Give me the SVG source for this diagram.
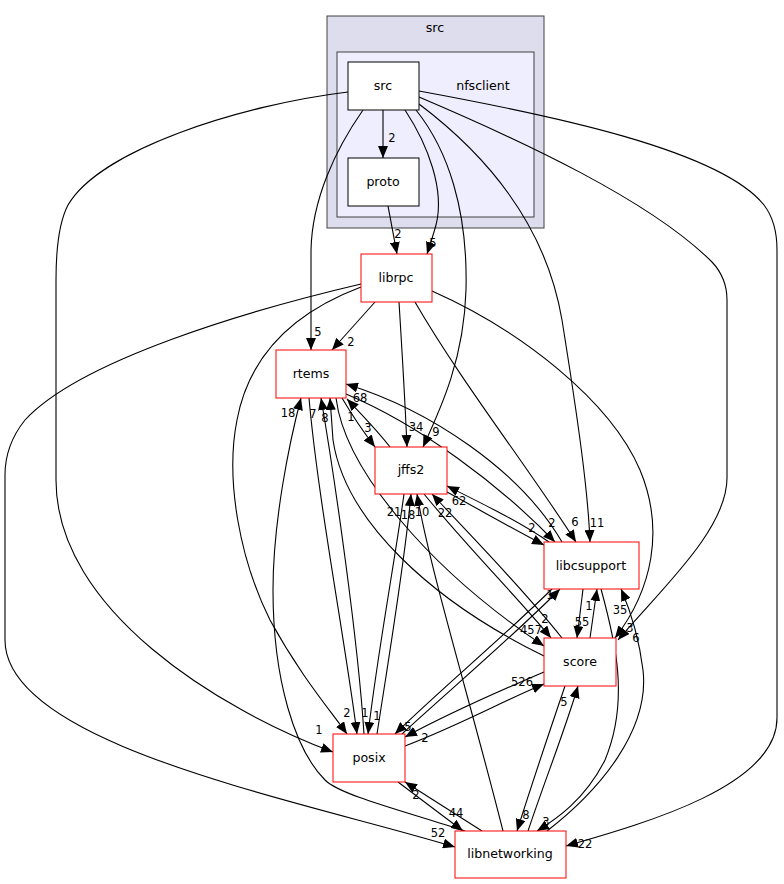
<svg xmlns="http://www.w3.org/2000/svg" width="784" height="884" viewBox="0 0 784 884">
<style>
.e{fill:none;stroke:#000;stroke-width:1.1;marker-end:url(#a)}
.n{fill:#fff;stroke:#ff0000;stroke-width:1}
.nb{fill:#fff;stroke:#000;stroke-width:1}
.t{font-family:"DejaVu Sans",sans-serif;font-size:12.6px;fill:#000;text-anchor:middle}
.l{font-family:"DejaVu Sans",sans-serif;font-size:11.5px;fill:#000;text-anchor:middle}
</style>
<defs>
<marker id="a" viewBox="0 0 12 10" refX="12" refY="5" markerWidth="12" markerHeight="10" markerUnits="userSpaceOnUse" orient="auto">
<path d="M0,0 L12,5 L0,10 z" fill="#000"/>
</marker>
</defs>
<rect width="784" height="884" fill="#fff"/>
<g id="cluster_src">
<rect x="327" y="16" width="217" height="212" fill="#ddddee" stroke="#404040"/>
<text class="t" x="435" y="32">src</text>
</g>
<g id="cluster_nfsclient">
<rect x="337" y="52" width="197" height="165" fill="#eeeeff" stroke="#404040"/>
<text class="t" x="483" y="90">nfsclient</text>
</g>
<g id="edges">
<path class="e" d="M383,110 L383,158"/>
<path class="e" d="M405,110 C428,145 445,190 436,225 C433,236 430,245 427,254"/>
<path class="e" d="M363,110 C335,150 312,200 311,250 L311,350"/>
<path class="e" d="M416,110 C448,150 468,210 466,290 C464,360 440,410 423,447"/>
<path class="e" d="M419,104 C480,150 545,220 562,320 C578,420 588,490 590,542"/>
<path class="e" d="M419,97 C520,140 650,200 712,262 Q727,278 727,300 L727,478 C727,530 660,590 618,640"/>
<path class="e" d="M419,91 C550,115 720,150 764,205 Q777,222 777,250 L777,718 C777,785 650,822 566,846"/>
<path class="e" d="M348,92 C240,105 100,150 68,205 Q56,228 56,280 L56,480 C56,610 220,710 333,752"/>
<path class="e" d="M388,206 L397,254"/>
<path class="e" d="M375,302 L332,350"/>
<path class="e" d="M399,302 C402,350 405,400 407,447"/>
<path class="e" d="M415,302 C460,380 530,470 576,542"/>
<path class="e" d="M432,291 C520,330 610,400 640,470 C665,530 652,590 615,638"/>
<path class="e" d="M361,287 C300,310 250,350 237,420 C225,480 240,560 270,620 C300,675 330,710 347,734"/>
<path class="e" d="M361,284 C250,310 80,360 25,420 Q5,445 5,475 L5,640 C5,745 300,800 455,847"/>
<path class="e" d="M342,398 C352,415 362,430 375,447"/>
<path class="e" d="M390,447 C377,430 362,415 347,399"/>
<path class="e" d="M562,542 C520,470 430,410 346,384"/>
<path class="e" d="M346,394 C420,425 500,485 555,542"/>
<path class="e" d="M447,492 C480,510 515,530 544,545"/>
<path class="e" d="M549,542 C520,522 485,505 447,486"/>
<path class="e" d="M364,734 C358,640 335,480 321,398"/>
<path class="e" d="M309,398 C318,500 345,640 357,734"/>
<path class="e" d="M404,494 C395,560 378,650 368,734"/>
<path class="e" d="M377,734 C390,650 405,560 411,494"/>
<path class="e" d="M503,831 C470,700 430,570 417,494"/>
<path class="e" d="M336,398 C345,470 430,570 544,646"/>
<path class="e" d="M544,656 C430,600 345,520 333,440 L330,398"/>
<path class="e" d="M424,494 C470,550 520,600 551,638"/>
<path class="e" d="M562,638 C520,585 470,535 432,494"/>
<path class="e" d="M583,589 L577,638"/>
<path class="e" d="M590,638 L597,589"/>
<path class="e" d="M601,589 C615,640 630,700 605,760 C585,800 555,820 537,831"/>
<path class="e" d="M547,831 C600,790 650,730 643,670 C638,630 628,605 621,589"/>
<path class="e" d="M565,686 C550,730 530,790 517,831"/>
<path class="e" d="M528,831 C545,780 565,730 578,686"/>
<path class="e" d="M405,746 C460,725 505,700 544,684"/>
<path class="e" d="M544,672 C490,695 440,718 405,737"/>
<path class="e" d="M552,589 C500,640 440,690 395,734"/>
<path class="e" d="M402,734 C450,690 520,630 560,589"/>
<path class="e" d="M398,782 L463,831"/>
<path class="e" d="M482,831 L405,782"/>
<path class="e" d="M465,831 C400,810 340,795 325,780 C295,750 273,680 273,590 C273,520 290,440 301,398"/>
</g>
<g id="edge_labels">
<text class="l" x="392" y="142">2</text>
<text class="l" x="398" y="238">2</text>
<text class="l" x="433" y="247">5</text>
<text class="l" x="318" y="336">5</text>
<text class="l" x="351" y="346">2</text>
<text class="l" x="360" y="402">68</text>
<text class="l" x="288" y="417">18</text>
<text class="l" x="313" y="418">7</text>
<text class="l" x="325" y="422">8</text>
<text class="l" x="351" y="421">1</text>
<text class="l" x="368" y="432">3</text>
<text class="l" x="416" y="431">34</text>
<text class="l" x="436" y="436">9</text>
<text class="l" x="394" y="516">21</text>
<text class="l" x="408" y="519">18</text>
<text class="l" x="422" y="516">10</text>
<text class="l" x="445" y="517">22</text>
<text class="l" x="459" y="505">62</text>
<text class="l" x="532" y="532">2</text>
<text class="l" x="552" y="527">2</text>
<text class="l" x="575" y="526">6</text>
<text class="l" x="597" y="527">11</text>
<text class="l" x="550" y="599">1</text>
<text class="l" x="589" y="610">1</text>
<text class="l" x="582" y="626">55</text>
<text class="l" x="620" y="614">35</text>
<text class="l" x="630" y="632">3</text>
<text class="l" x="636" y="642">6</text>
<text class="l" x="531" y="634">457</text>
<text class="l" x="545" y="623">2</text>
<text class="l" x="522" y="686">526</text>
<text class="l" x="564" y="706">5</text>
<text class="l" x="526" y="819">8</text>
<text class="l" x="546" y="826">3</text>
<text class="l" x="585" y="848">22</text>
<text class="l" x="456" y="817">44</text>
<text class="l" x="438" y="837">52</text>
<text class="l" x="416" y="799">2</text>
<text class="l" x="347" y="717">2</text>
<text class="l" x="365" y="717">1</text>
<text class="l" x="377" y="720">1</text>
<text class="l" x="408" y="731">5</text>
<text class="l" x="425" y="742">2</text>
<text class="l" x="319" y="734">1</text>
</g>
<g id="node_src"><rect class="nb" x="348" y="62" width="71" height="48"/><text class="t" x="383" y="90">src</text></g>
<g id="node_proto"><rect class="nb" x="348" y="158" width="71" height="48"/><text class="t" x="383" y="186">proto</text></g>
<g id="node_librpc"><rect class="n" x="361" y="254" width="71" height="48"/><text class="t" x="396" y="282">librpc</text></g>
<g id="node_rtems"><rect class="n" x="276" y="350" width="70" height="48"/><text class="t" x="311" y="378">rtems</text></g>
<g id="node_jffs2"><rect class="n" x="375" y="447" width="72" height="47"/><text class="t" x="411" y="474">jffs2</text></g>
<g id="node_libcsupport"><rect class="n" x="544" y="542" width="95" height="47"/><text class="t" x="591" y="570">libcsupport</text></g>
<g id="node_score"><rect class="n" x="544" y="638" width="72" height="48"/><text class="t" x="580" y="666">score</text></g>
<g id="node_posix"><rect class="n" x="333" y="734" width="72" height="48"/><text class="t" x="369" y="762">posix</text></g>
<g id="node_libnetworking"><rect class="n" x="455" y="831" width="111" height="47"/><text class="t" x="510" y="858">libnetworking</text></g>
</svg>
